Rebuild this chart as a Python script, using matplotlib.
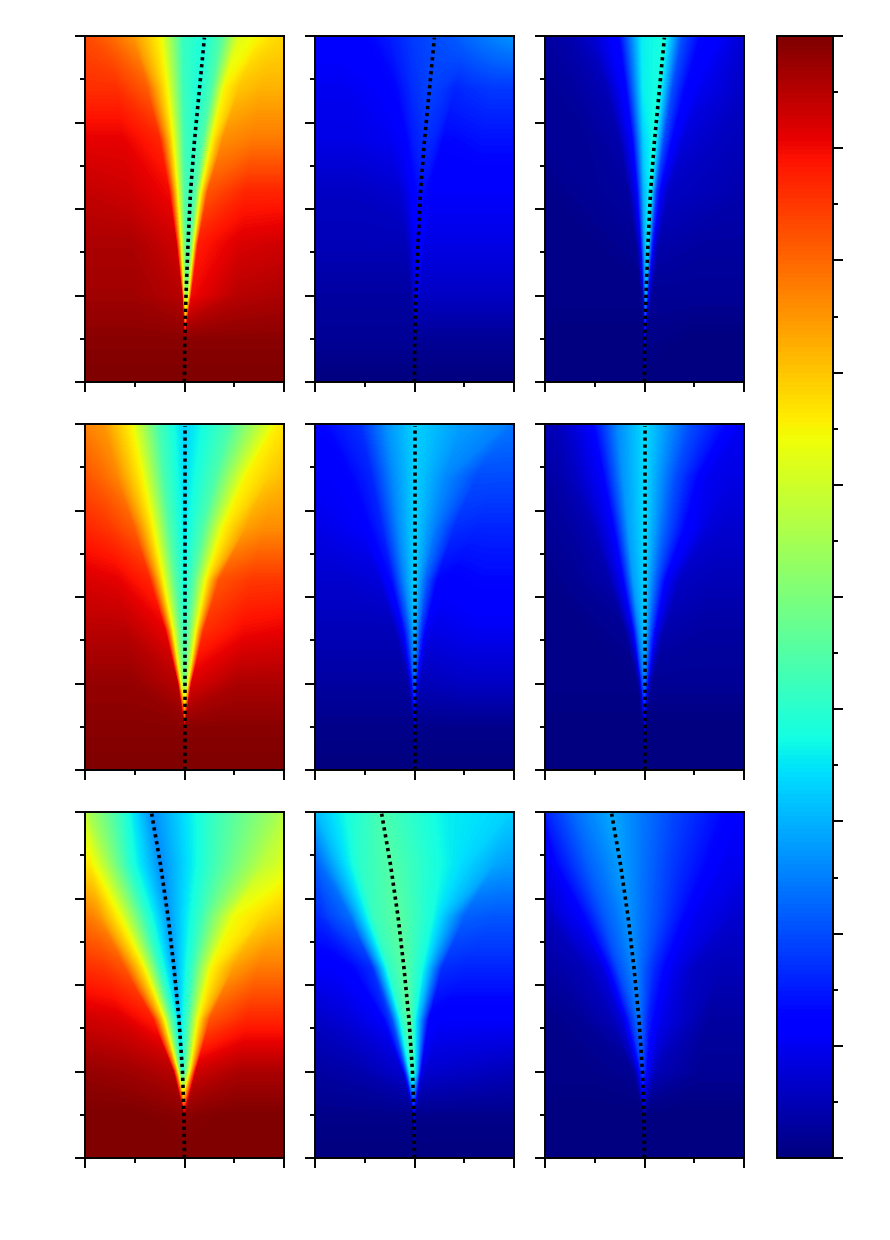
# -*- coding: utf-8 -*-
import numpy as np
import matplotlib
matplotlib.use("Agg")
import matplotlib.pyplot as plt
from matplotlib.cm import ScalarMappable
from matplotlib.colors import Normalize
from matplotlib.ticker import MultipleLocator, NullFormatter

# heights at which the fields were read, bottom to top
z = [0, .12, .25, .4, .55, .7, .85, 1]

# dotted line and wedge edges for each row of panels
centre_top = [0, .002, .015, .035, .06, .1, .15, .2]
left_top = [-.002, -.003, -.012, -.04, -.075, -.12, -.18, -.25]
right_top = [.002, .005, .05, .1, .17, .28, .4, .55]

centre_mid = [0, 0, 0, 0, 0, 0, 0, 0]
left_mid = [-.002, -.004, -.045, -.12, -.22, -.32, -.43, -.54]
right_mid = [.002, .004, .045, .12, .22, .39, .62, .92]

centre_bot = [0, -.005, -.02, -.055, -.105, -.165, -.24, -.33]
left_bot = [-.002, -.008, -.08, -.22, -.42, -.65, -.88, -.98]
right_bot = [.002, .005, .065, .14, .27, .5, .8, .95]

# field values, one row per height in z, 11 samples across each row
panel_a = [
    [1, 1, 1, 1, 1, 1, 1, 1, 1, 1, 1],
    [.99, .99, .99, .98, .95, .9, .95, .98, .99, .99, .99],
    [.97, .97, .95, .68, .55, .5, .55, .68, .9, .95, .96],
    [.96, .96, .93, .65, .48, .44, .48, .65, .88, .92, .93],
    [.94, .93, .9, .65, .45, .42, .45, .65, .82, .87, .87],
    [.91, .91, .87, .65, .43, .4, .45, .65, .76, .78, .78],
    [.86, .86, .81, .65, .42, .38, .44, .65, .7, .72, .72],
    [.83, .8, .75, .65, .42, .38, .45, .62, .65, .67, .68],
]
panel_b = [
    [0, 0, 0, 0, 0, 0, 0, 0, 0, 0, 0],
    [.02, .02, .02, .02, .03, .04, .03, .02, .02, .02, .02],
    [.03, .03, .03, .05, .08, .1, .08, .06, .06, .06, .06],
    [.05, .05, .05, .07, .1, .12, .11, .09, .09, .09, .09],
    [.06, .06, .07, .09, .12, .14, .13, .11, .11, .11, .11],
    [.09, .09, .1, .11, .15, .17, .16, .13, .13, .14, .14],
    [.1, .1, .11, .13, .17, .19, .18, .16, .17, .18, .18],
    [.12, .12, .12, .15, .18, .2, .21, .23, .25, .26, .27],
]
panel_c = [
    [0, 0, 0, 0, 0, 0, 0, 0, 0, 0, 0],
    [0, 0, 0, .01, .05, .08, .04, .01, .01, 0, 0],
    [.01, .01, .01, .06, .2, .28, .12, .05, .02, .02, .02],
    [.01, .01, .02, .09, .28, .35, .18, .08, .04, .03, .03],
    [.01, .02, .03, .11, .3, .37, .18, .1, .06, .05, .04],
    [.02, .02, .04, .12, .33, .38, .2, .12, .08, .06, .05],
    [.02, .03, .05, .13, .36, .38, .2, .13, .1, .08, .06],
    [.03, .04, .07, .13, .36, .38, .2, .13, .11, .09, .07],
]
panel_d = [
    [1, 1, 1, 1, 1, 1, 1, 1, 1, 1, 1],
    [.99, .99, .99, .98, .95, .88, .95, .98, .99, .99, .99],
    [.98, .98, .95, .67, .55, .48, .55, .67, .92, .96, .96],
    [.95, .95, .91, .65, .5, .4, .5, .65, .86, .9, .91],
    [.92, .91, .87, .65, .47, .37, .47, .65, .82, .85, .85],
    [.87, .85, .81, .65, .45, .35, .45, .65, .74, .76, .76],
    [.82, .8, .77, .65, .44, .34, .44, .65, .69, .7, .71],
    [.77, .76, .75, .65, .44, .33, .44, .65, .66, .66, .67],
]
panel_e = [
    [0, 0, 0, 0, 0, 0, 0, 0, 0, 0, 0],
    [.01, .01, .01, .01, .03, .06, .03, .01, .01, .01, .01],
    [.03, .03, .03, .05, .14, .22, .12, .05, .05, .06, .06],
    [.05, .05, .05, .1, .2, .3, .18, .1, .09, .1, .1],
    [.07, .07, .08, .14, .25, .33, .22, .13, .12, .13, .13],
    [.09, .1, .11, .16, .26, .33, .25, .17, .16, .16, .16],
    [.11, .11, .12, .16, .26, .33, .26, .2, .2, .2, .2],
    [.13, .13, .14, .17, .27, .33, .28, .25, .24, .24, .24],
]
panel_f = [
    [0, 0, 0, 0, 0, 0, 0, 0, 0, 0, 0],
    [0, 0, 0, .01, .04, .07, .04, .01, 0, 0, 0],
    [.01, .01, .01, .05, .18, .24, .16, .05, .02, .02, .02],
    [.01, .01, .02, .09, .25, .32, .2, .09, .04, .03, .03],
    [.01, .02, .04, .11, .28, .33, .22, .11, .06, .05, .05],
    [.02, .03, .05, .11, .28, .34, .22, .13, .08, .07, .07],
    [.03, .04, .06, .11, .27, .34, .2, .1, .09, .09, .09],
    [.05, .05, .06, .11, .26, .34, .2, .11, .1, .1, .1],
]
panel_g = [
    [1, 1, 1, 1, 1, 1, 1, 1, 1, 1, 1],
    [1, 1, .99, .98, .95, .9, .95, .98, .99, 1, 1],
    [.98, .97, .95, .72, .5, .38, .5, .68, .93, .96, .96],
    [.93, .92, .88, .68, .46, .32, .44, .65, .82, .87, .87],
    [.86, .85, .82, .66, .42, .28, .42, .65, .74, .78, .78],
    [.78, .77, .75, .64, .42, .27, .42, .64, .68, .69, .7],
    [.66, .66, .66, .62, .4, .26, .42, .58, .6, .61, .62],
    [.58, .58, .58, .56, .42, .26, .42, .55, .56, .57, .57],
]
panel_h = [
    [0, 0, 0, 0, 0, 0, 0, 0, 0, 0, 0],
    [.01, .01, .01, .01, .03, .08, .04, .01, .01, .01, .01],
    [.03, .04, .07, .2, .36, .42, .3, .09, .07, .06, .05],
    [.06, .08, .11, .2, .38, .47, .3, .12, .11, .11, .11],
    [.11, .11, .13, .17, .4, .46, .37, .17, .16, .16, .16],
    [.16, .17, .19, .23, .42, .46, .38, .22, .21, .21, .21],
    [.22, .22, .23, .26, .4, .45, .37, .29, .28, .28, .28],
    [.31, .31, .31, .31, .38, .44, .36, .33, .33, .33, .33],
]
panel_i = [
    [0, 0, 0, 0, 0, 0, 0, 0, 0, 0, 0],
    [0, 0, 0, .01, .02, .04, .02, .01, 0, 0, 0],
    [.01, .01, .02, .05, .12, .19, .12, .07, .05, .02, .02],
    [.01, .02, .05, .08, .17, .24, .15, .1, .08, .03, .03],
    [.03, .04, .05, .08, .2, .26, .17, .1, .06, .05, .05],
    [.05, .06, .08, .11, .21, .27, .19, .1, .08, .07, .07],
    [.09, .1, .1, .13, .22, .28, .18, .1, .1, .1, .1],
    [.15, .15, .15, .16, .24, .29, .19, .11, .11, .11, .11],
]

W, H = 890, 1240
col_left = [85, 315, 545]
row_top = [36, 424, 812]
panel_w, panel_h_px = 199, 346

rows = [
    (centre_top, left_top, right_top, [panel_a, panel_b, panel_c]),
    (centre_mid, left_mid, right_mid, [panel_d, panel_e, panel_f]),
    (centre_bot, left_bot, right_bot, [panel_g, panel_h, panel_i]),
]


def px_axes(fig, x, y, w, h):
    return fig.add_axes([x / W, 1 - (y + h) / H, w / W, h / H])


def fan_mesh(centre, left, right):
    # sample positions follow the wedge so its sharp edges stay sharp
    c, l, r = np.array(centre), np.array(left), np.array(right)
    sl = l - np.minimum(.6 * (c - l), .6 * (l + 1))
    sr = r + np.minimum(.6 * (r - c), .6 * (1 - r))
    one = np.ones_like(c)
    X = np.column_stack([-one, (sl - 1) / 2, sl, l, (l + c) / 2, c,
                         (c + r) / 2, r, sr, (sr + 1) / 2, one])
    Y = np.repeat(np.array(z)[:, None], 11, axis=1)
    return X, Y


def style_ticks(ax, lw):
    for s in ax.spines.values():
        s.set_linewidth(lw)
    ax.tick_params(which="major", length=7, width=lw, labelleft=False,
                   labelbottom=False, labelright=False)
    ax.tick_params(which="minor", length=3.5, width=lw)
    ax.xaxis.set_major_formatter(NullFormatter())
    ax.yaxis.set_major_formatter(NullFormatter())


fig = plt.figure(figsize=(W / 100, H / 100), dpi=100)
levels = np.linspace(0, 1, 257)

for top, (centre, left, right, panels) in zip(row_top, rows):
    X, Y = fan_mesh(centre, left, right)
    for x0, values in zip(col_left, panels):
        ax = px_axes(fig, x0, top, panel_w, panel_h_px)
        ax.contourf(X, Y, np.array(values), levels=levels, cmap="jet",
                    antialiased=False, extend="both")
        ax.plot(centre, np.array(z) * .995, color="black", lw=2.6,
                ls=(0, (.9, 1.04)), dash_capstyle="butt")
        ax.set_xlim(-1, 1)
        ax.set_ylim(0, 1)
        ax.xaxis.set_major_locator(MultipleLocator(1))
        ax.xaxis.set_minor_locator(MultipleLocator(.5))
        ax.yaxis.set_major_locator(MultipleLocator(.25))
        ax.yaxis.set_minor_locator(MultipleLocator(.125))
        style_ticks(ax, 1.4)

cax = px_axes(fig, 777, 36, 56, 1122)
cb = fig.colorbar(ScalarMappable(Normalize(0, 1), "jet"), cax=cax)
cax.yaxis.set_major_locator(MultipleLocator(.1))
cax.yaxis.set_minor_locator(MultipleLocator(.05))
style_ticks(cax, 1.4)
cb.outline.set_linewidth(1.4)

fig.savefig("out.png", dpi=100)
